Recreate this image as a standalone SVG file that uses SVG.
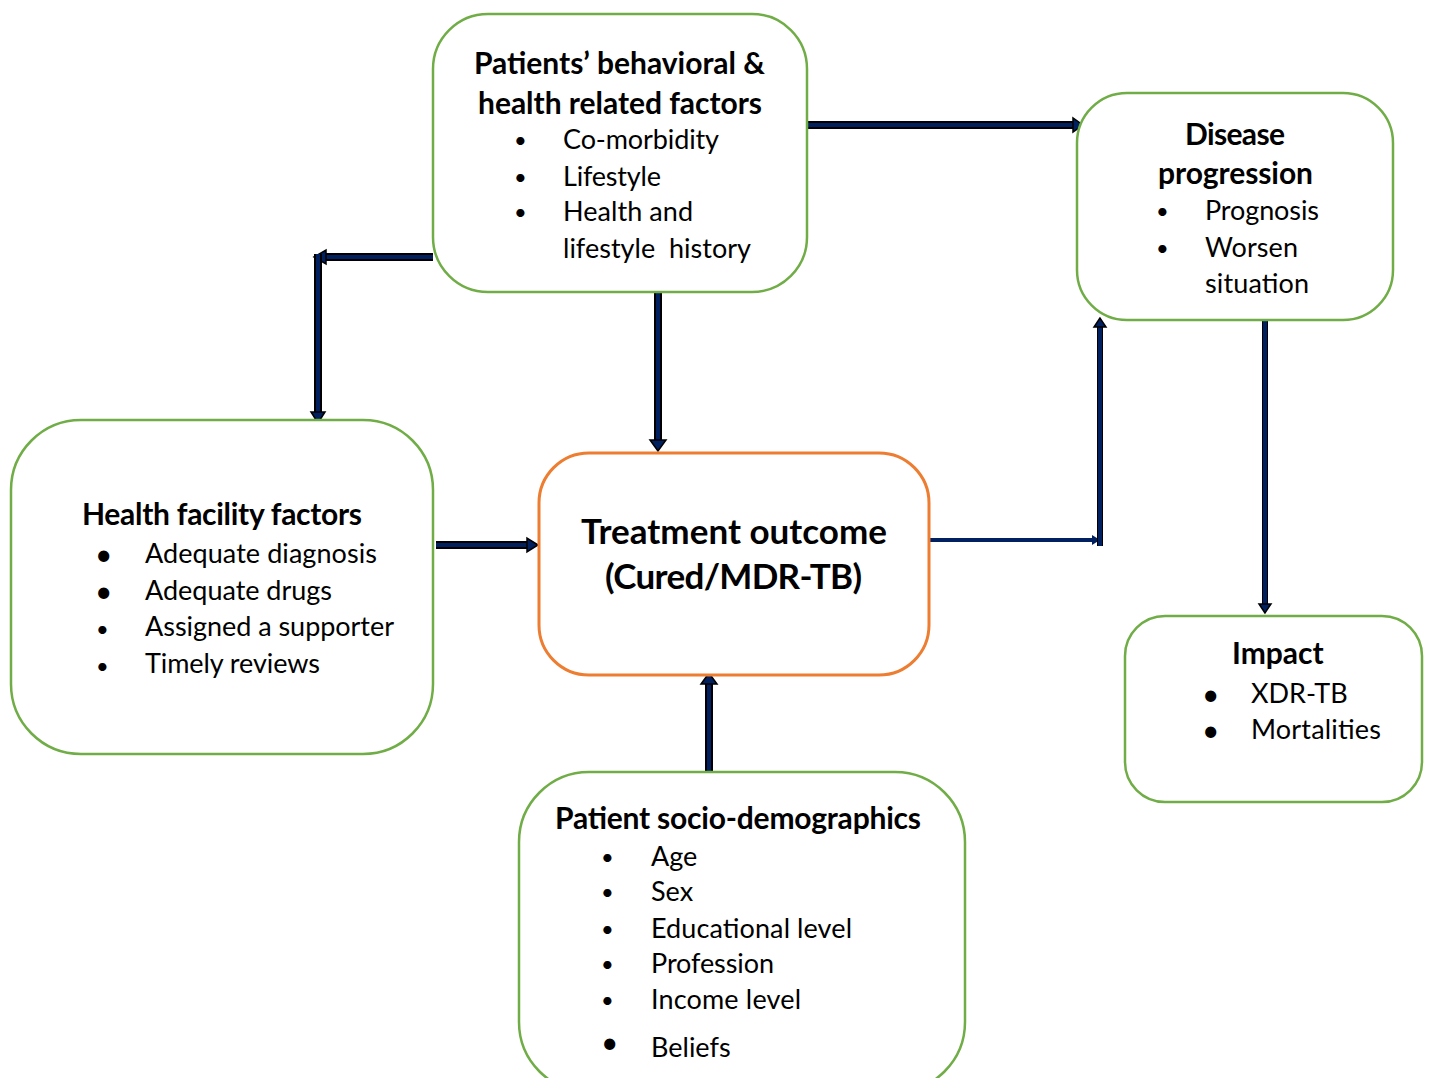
<svg xmlns="http://www.w3.org/2000/svg" width="1431" height="1078" viewBox="0 0 1431 1078">
<style>
.box{fill:#fff;stroke:#70ad47;stroke-width:2.5}
.obox{fill:#fff;stroke:#ed7d31;stroke-width:3}
text{font-family:Lato,"Liberation Sans",sans-serif;fill:#000}
.t{font-weight:bold;font-size:30px}
.i{font-size:27px}
.b{font-size:22px}
.bb{font-size:30px}
.big{font-weight:bold;font-size:35px}
.lo{fill:none;stroke:#000;stroke-width:8}
.li{fill:none;stroke:#002060;stroke-width:4}
.ah{fill:#002060;stroke:#000;stroke-width:1.5}
</style>
<rect width="1431" height="1078" fill="#fff"/>
<g id="connectors">
  <path class="lo" d="M433,257 H323"/>
  <path class="li" d="M433,257 H323"/>
  <polygon class="ah" points="314,257 326,250 326,264"/>
  <path class="lo" d="M318,254 V412"/>
  <path class="li" d="M318,254 V412"/>
  <polygon class="ah" points="318,423 311,412 325,412"/>
  <path class="lo" d="M658,292 V440"/>
  <path class="li" d="M658,292 V440"/>
  <polygon class="ah" points="658,451 650,440 666,440"/>
  <path class="lo" d="M808,125 H1073"/>
  <path class="li" d="M808,125 H1073"/>
  <polygon class="ah" points="1083,125 1073,118 1073,132"/>
  <path class="lo" d="M436,545 H527"/>
  <path class="li" d="M436,545 H527"/>
  <polygon class="ah" points="538,545 527,538 527,552"/>
  <path class="lo" d="M709,772 V684"/>
  <path class="li" d="M709,772 V684"/>
  <polygon class="ah" points="709,673 701,684 717,684"/>
  <path d="M930,540 H1094" fill="none" stroke="#002060" stroke-width="4"/>
  <polygon points="1100,540 1092,535 1092,545" fill="#002060"/>
  <path d="M1100,546 V326" fill="none" stroke="#000" stroke-width="6"/>
  <path d="M1100,546 V326" fill="none" stroke="#002060" stroke-width="4"/>
  <polygon class="ah" points="1100,318 1094,327 1106,327"/>
  <path d="M1265,320 V604" fill="none" stroke="#000" stroke-width="6"/>
  <path d="M1265,320 V604" fill="none" stroke="#002060" stroke-width="4"/>
  <polygon class="ah" points="1265,613 1259,604 1271,604"/>
</g>
<g id="patients-behavioral">
  <rect class="box" x="433" y="14" width="374" height="278" rx="55"/>
  <text class="t" x="474" y="74" textLength="291">Patients’ behavioral &amp;</text>
  <text class="t" x="478" y="114" textLength="284">health related factors</text>
  <text class="b" x="514" y="148">•</text><text class="i" x="563" y="149" textLength="156">Co-morbidity</text>
  <text class="b" x="514" y="185">•</text><text class="i" x="563" y="186" textLength="98">Lifestyle</text>
  <text class="b" x="514" y="220">•</text><text class="i" x="563" y="221" textLength="130">Health and</text>
  <text class="i" x="563" y="258" xml:space="preserve" textLength="188">lifestyle  history</text>
</g>
<g id="disease-progression">
  <rect class="box" x="1077" y="93" width="316" height="227" rx="50"/>
  <text class="t" x="1185" y="145" textLength="100">Disease</text>
  <text class="t" x="1158" y="184" textLength="155">progression</text>
  <text class="b" x="1156" y="219">•</text><text class="i" x="1205" y="220" textLength="114">Prognosis</text>
  <text class="b" x="1156" y="256">•</text><text class="i" x="1205" y="257" textLength="93">Worsen</text>
  <text class="i" x="1205" y="293" textLength="104">situation</text>
</g>
<g id="health-facility">
  <rect class="box" x="11" y="420" width="422" height="334" rx="70"/>
  <text class="t" x="82" y="525" textLength="280">Health facility factors</text>
  <text class="bb" x="95" y="565">•</text><text class="i" x="145" y="563" textLength="232">Adequate diagnosis</text>
  <text class="bb" x="95" y="602">•</text><text class="i" x="145" y="600" textLength="187">Adequate drugs</text>
  <text class="b" x="96" y="637">•</text><text class="i" x="145" y="636" textLength="249">Assigned a supporter</text>
  <text class="b" x="96" y="674">•</text><text class="i" x="145" y="673" textLength="175">Timely reviews</text>
</g>
<g id="treatment-outcome">
  <rect class="obox" x="539" y="453" width="390" height="222" rx="50"/>
  <text class="big" x="581" y="544" textLength="306">Treatment outcome</text>
  <text class="big" x="605" y="589" textLength="257">(Cured/MDR-TB)</text>
</g>
<g id="impact">
  <rect class="box" x="1125" y="616" width="297" height="186" rx="40"/>
  <text class="t" x="1232" y="664">Impact</text>
  <text class="bb" x="1202" y="705">•</text><text class="i" x="1251" y="703">XDR-TB</text>
  <text class="bb" x="1202" y="741">•</text><text class="i" x="1251" y="739" textLength="130">Mortalities</text>
</g>
<g id="socio-demographics">
  <rect class="box" x="519" y="772" width="446" height="320" rx="70"/>
  <text class="t" x="555" y="829" textLength="366">Patient socio-demographics</text>
  <text class="b" x="601" y="865">•</text><text class="i" x="651" y="866">Age</text>
  <text class="b" x="601" y="900">•</text><text class="i" x="651" y="901">Sex</text>
  <text class="b" x="601" y="937">•</text><text class="i" x="651" y="938" textLength="201">Educational level</text>
  <text class="b" x="601" y="972">•</text><text class="i" x="651" y="973" textLength="123">Profession</text>
  <text class="b" x="601" y="1008">•</text><text class="i" x="651" y="1009" textLength="150">Income level</text>
  <text class="bb" x="601" y="1053">•</text><text class="i" x="651" y="1057">Beliefs</text>
</g>
</svg>
